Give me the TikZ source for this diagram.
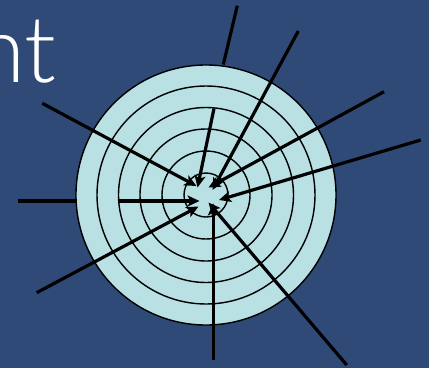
\documentclass[tikz,border=0pt]{standalone}
\usepackage{fontspec}
\usetikzlibrary{arrows.meta}
\newfontfamily\titlefont{Lato Light}
\definecolor{bg}{RGB}{47,74,118}
\definecolor{disc}{RGB}{185,224,227}
\begin{document}
\begin{tikzpicture}[x=1pt,y=-1pt,
  ring/.style={draw=black,line width=1.4pt},
  ray/.style={line width=3.2pt,draw=black},
  arr/.style={ray,-{Stealth[length=12pt,width=11pt,inset=3pt]}}]
\fill[bg] (0,0) rectangle (429,368);
\useasboundingbox (0,0) rectangle (429,368);
\node[anchor=base west,text=white,inner sep=0pt,
  font=\titlefont\fontsize{93}{93}\selectfont] (title) at (-26,82) {nt};
\coordinate (c) at (206,195);
\fill[disc] (c) circle (130);
\foreach \r in {130,109,87.5,66,44,22} \draw[ring] (c) circle (\r);
% outer starts
\coordinate (s1) at (42.3,103.3);
\coordinate (s2o) at (237.3,5.7);
\coordinate (s2e) at (223.3,64.5);
\coordinate (s2) at (214,108.5);
\coordinate (s3) at (298.3,31);
\coordinate (s4) at (384,91.7);
\coordinate (s5) at (420.7,140);
\coordinate (s6o) at (18.3,201);
\coordinate (s6e) at (76.2,201);
\coordinate (s6) at (119.3,201);
\coordinate (s7) at (36.7,292.7);
\coordinate (s8) at (213.3,360);
\coordinate (s9) at (346.7,365);
% tips
\coordinate (t1) at (196.5,186);
\coordinate (t2) at (197.5,187.5);
\coordinate (t3) at (212.5,190);
\coordinate (t4) at (208.5,187.5);
\coordinate (t5) at (219,200);
\coordinate (t6) at (199.5,201);
\coordinate (t7) at (198.5,206.5);
\coordinate (t8) at (213.3,203.5);
\coordinate (t9) at (208.5,202.5);
\draw[ray] (s2o) -- (s2e);
\draw[ray] (s6o) -- (s6e);
\foreach \i in {1,...,9} \draw[arr] (s\i) -- (t\i);
\end{tikzpicture}
\end{document}
